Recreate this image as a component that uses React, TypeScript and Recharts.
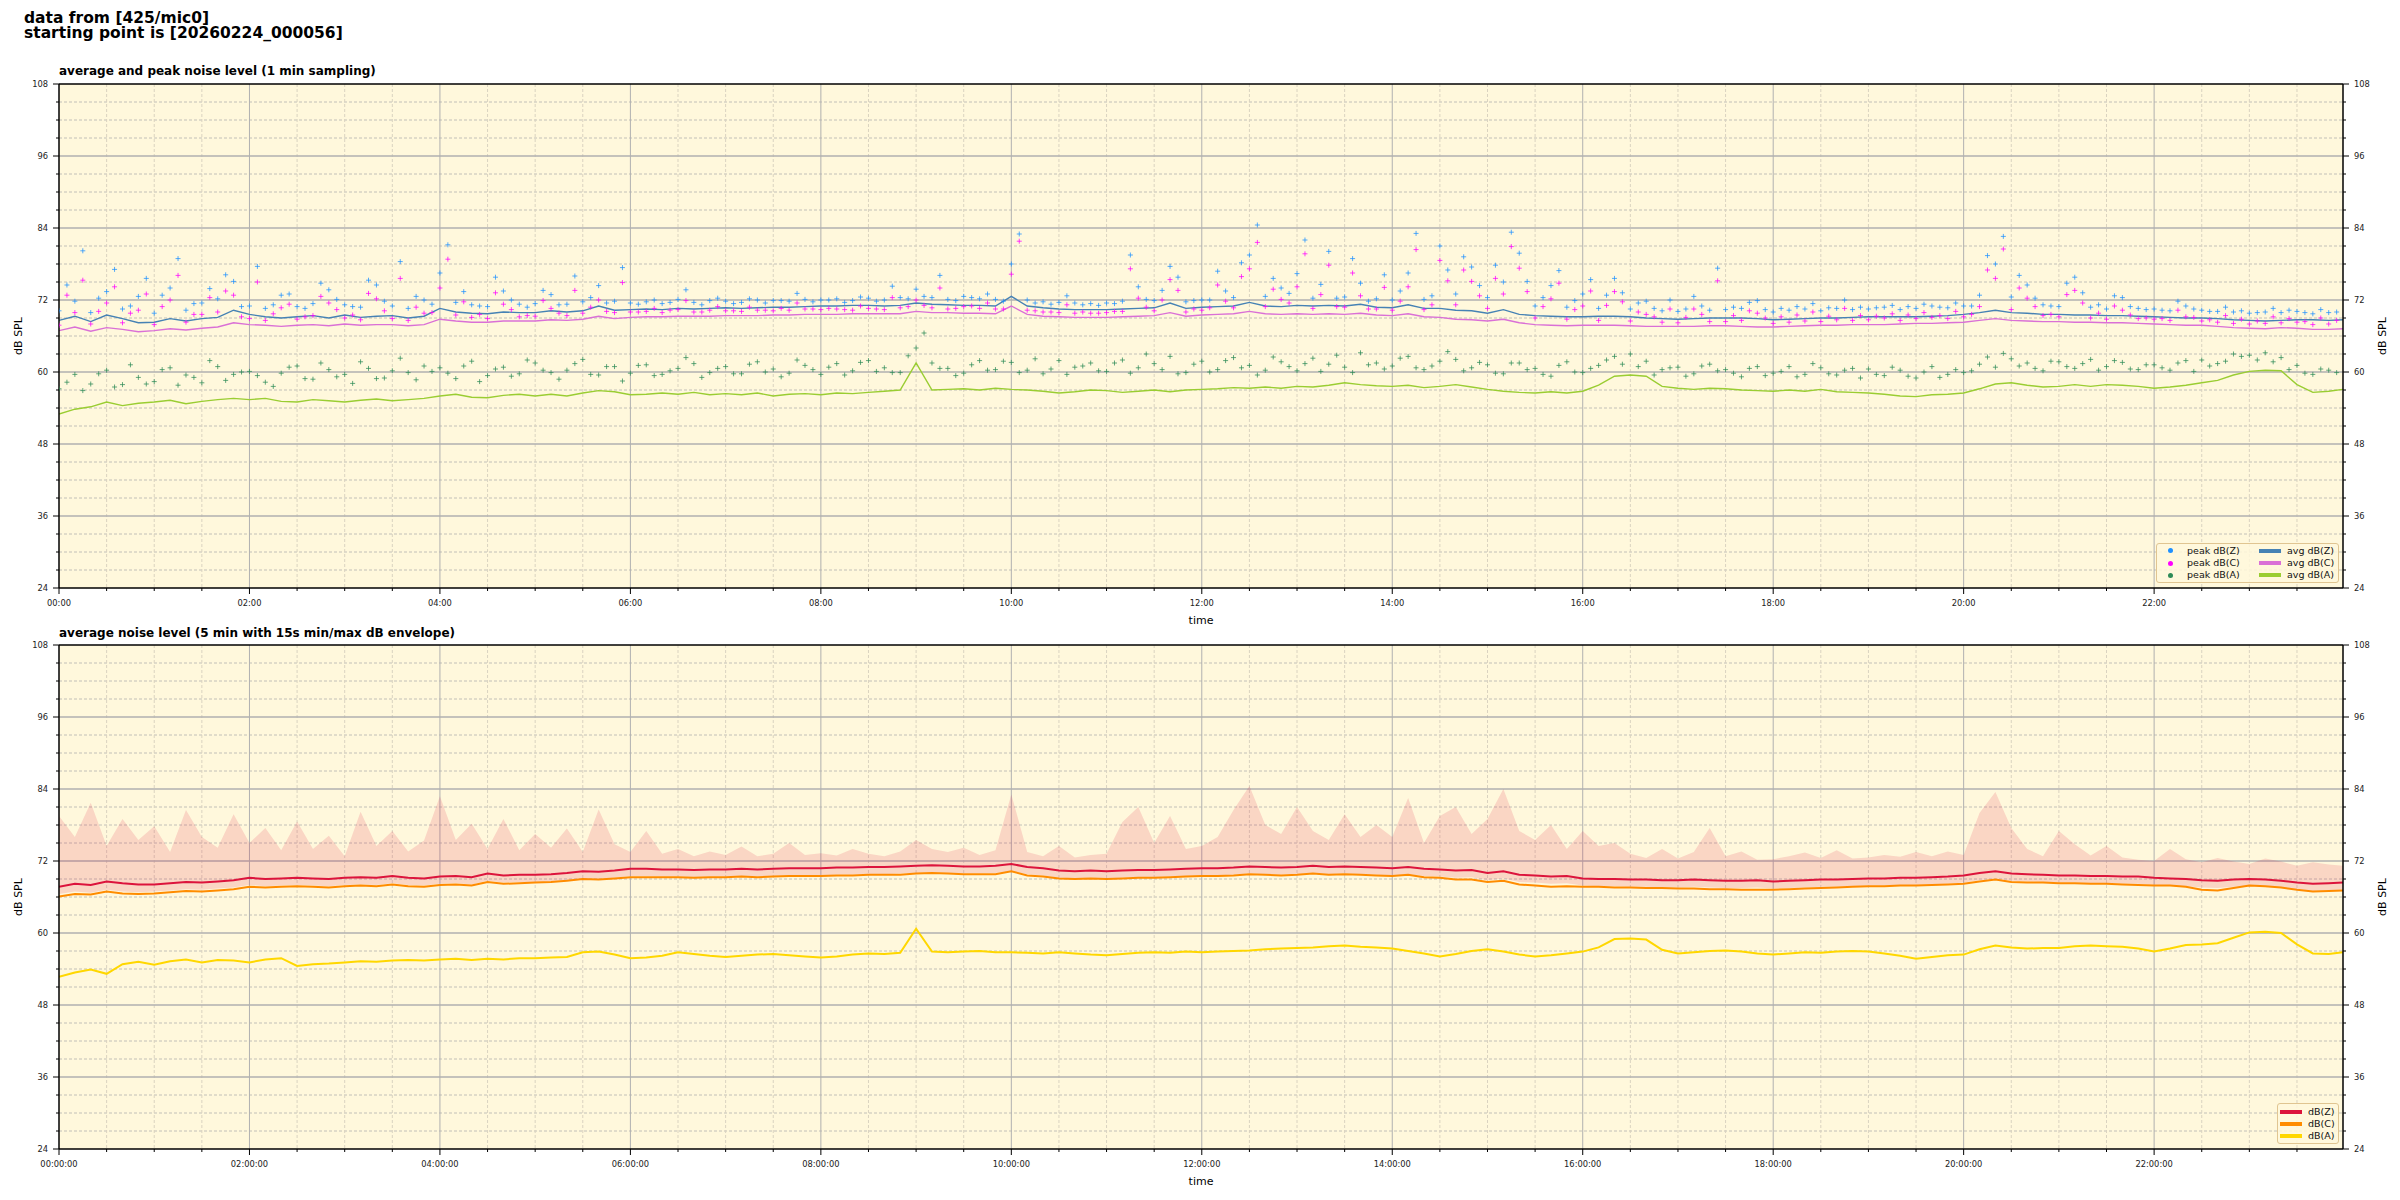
import React from 'react';
import { ComposedChart, Line, Scatter, Area, XAxis, YAxis, CartesianGrid, ReferenceLine } from 'recharts';

const FONT = '"DejaVu Sans", sans-serif';
const BG = '#fff8dc';

// x axis is minutes since the starting point
const X_END = 1439;
const STEP = 10; // line samples every 10 min, peaks read at :00 and :05 offsets

const xTicks = Array.from({ length: 48 }, (_, i) => i * 30);
const xLabelsTop = ['00:00', '02:00', '04:00', '06:00', '08:00', '10:00', '12:00', '14:00', '16:00', '18:00', '20:00', '22:00'];
const xLabelsBottom = ['00:00:00', '02:00:00', '04:00:00', '06:00:00', '08:00:00', '10:00:00', '12:00:00', '14:00:00', '16:00:00', '18:00:00', '20:00:00', '22:00:00'];
const yTicks = Array.from({ length: 29 }, (_, i) => 24 + i * 3);
const yLabels = [24, 36, 48, 60, 72, 84, 96, 108];

// top panel, 1 min sampling (read every 10 min)
const avgZ = [
  68.6, 69.3, 68.4, 69.5, 68.9, 68.2, 68.3, 68.9, 68.5, 68.9, 69.1, 70.3,
  69.6, 69.2, 69.0, 69.2, 69.4, 69.0, 69.5, 69.1, 69.3, 69.4, 69.0, 69.3,
  70.6, 70.0, 69.8, 69.7, 70.0, 69.9, 69.9, 70.2, 70.0, 70.2, 71.0, 70.3,
  70.4, 70.5, 70.4, 70.6, 70.5, 70.6, 70.7, 70.6, 70.7, 70.8, 70.8, 70.9,
  71.0, 71.0, 71.1, 71.1, 71.0, 71.1, 71.5, 71.3, 71.2, 71.1, 71.1, 71.0,
  72.6, 71.0, 70.7, 70.5, 70.4, 70.4, 70.4, 70.5, 70.6, 70.7, 71.5, 70.6,
  70.8, 70.9, 71.0, 71.6, 71.0, 70.9, 71.1, 71.0, 71.1, 71.0, 71.3, 70.8,
  70.7, 71.2, 70.6, 70.6, 70.3, 70.2, 69.8, 70.4, 69.6, 69.4, 69.3, 69.2,
  69.2, 69.3, 69.3, 69.2, 69.0, 68.9, 68.8, 68.9, 69.0, 69.0, 69.0, 68.9,
  68.7, 68.8, 68.9, 69.0, 69.0, 69.1, 69.2, 69.2, 69.2, 69.2, 69.3, 69.4,
  69.6, 69.9, 70.3, 69.9, 69.8, 69.6, 69.6, 69.5, 69.5, 69.4, 69.4, 69.3,
  69.2, 69.1, 69.0, 69.0, 68.9, 68.7, 68.6, 68.5, 68.6, 68.7, 68.7, 68.6,
  68.7,
];
const avgC = [
  66.9, 67.5, 66.8, 67.4, 67.1, 66.7, 66.9, 67.2, 67.0, 67.3, 67.5, 68.2,
  67.9, 67.8, 67.6, 67.8, 67.9, 67.7, 68.0, 67.8, 67.9, 67.9, 67.7, 67.9,
  68.8, 68.5, 68.3, 68.3, 68.5, 68.5, 68.5, 68.7, 68.6, 68.8, 69.3, 68.9,
  69.1, 69.2, 69.2, 69.3, 69.3, 69.3, 69.4, 69.4, 69.4, 69.5, 69.5, 69.6,
  69.6, 69.6, 69.7, 69.7, 69.7, 69.7, 70.1, 69.9, 69.9, 69.8, 69.8, 69.7,
  71.0, 69.6, 69.3, 69.2, 69.1, 69.1, 69.1, 69.2, 69.3, 69.4, 69.9, 69.3,
  69.5, 69.6, 69.7, 70.1, 69.7, 69.6, 69.7, 69.6, 69.7, 69.6, 69.8, 69.5,
  69.4, 69.7, 69.2, 69.1, 68.8, 68.7, 68.5, 68.8, 68.2, 67.9, 67.8, 67.7,
  67.8, 67.8, 67.8, 67.7, 67.6, 67.6, 67.6, 67.6, 67.7, 67.7, 67.6, 67.5,
  67.5, 67.6, 67.7, 67.8, 67.8, 67.9, 67.9, 67.9, 68.0, 68.1, 68.1, 68.2,
  68.3, 68.6, 68.9, 68.6, 68.5, 68.4, 68.4, 68.3, 68.3, 68.2, 68.2, 68.1,
  68.0, 67.9, 67.8, 67.8, 67.6, 67.4, 67.3, 67.2, 67.4, 67.3, 67.1, 67.1,
  67.2,
];
const avgA = [
  53.0, 53.8, 54.2, 55.0, 54.4, 54.8, 55.0, 55.3, 54.7, 55.1, 55.4, 55.6,
  55.4, 55.6, 55.1, 55.0, 55.4, 55.2, 55.0, 55.3, 55.5, 55.2, 55.4, 55.6,
  56.0, 56.3, 55.8, 55.7, 56.1, 56.3, 56.0, 56.3, 56.0, 56.5, 56.9, 56.7,
  56.2, 56.3, 56.5, 56.3, 56.6, 56.2, 56.4, 56.2, 56.5, 56.0, 56.3, 56.4,
  56.2, 56.5, 56.4, 56.6, 56.8, 57.0, 61.5, 57.0, 57.1, 57.2, 57.0, 57.3,
  57.1, 57.0, 56.8, 56.5, 56.7, 57.0, 56.9, 56.6, 56.8, 57.0, 56.7, 57.0,
  57.1, 57.2, 57.4, 57.3, 57.5, 57.3, 57.6, 57.5, 57.8, 58.2, 57.9, 57.7,
  57.6, 57.8, 57.4, 57.6, 57.9, 57.5, 57.1, 56.8, 56.6, 56.5, 56.7, 56.5,
  56.8, 57.8, 59.3, 59.5, 59.3, 57.6, 57.3, 57.1, 57.3, 57.2, 57.0, 56.9,
  56.8, 57.0, 56.8, 57.1, 56.7, 56.6, 56.5, 56.3, 56.0, 55.9, 56.2, 56.3,
  56.5, 57.2, 58.0, 58.2, 57.8, 57.5, 57.6, 57.9, 57.6, 57.9, 57.8, 57.6,
  57.3, 57.5, 57.8, 58.2, 58.6, 59.5, 60.1, 60.3, 60.2, 57.9, 56.6, 56.8,
  57.1,
];
// peaks read at minute 10*i + 5
const peakZ = [
  74.5, 80.2, 72.3, 77.1, 71.0, 75.6, 72.8, 78.9, 71.4, 73.9, 76.2, 70.9,
  77.6, 71.2, 73.0, 70.6, 74.8, 72.1, 70.9, 75.3, 71.8, 78.4, 72.6, 71.3,
  81.2, 73.4, 71.0, 75.8, 72.0, 70.8, 73.6, 71.2, 76.0, 72.4, 71.5, 77.4,
  71.3, 72.0, 71.6, 73.7, 71.2, 72.3, 71.4, 72.2, 71.5, 71.9, 73.1, 71.7,
  72.0, 71.6, 72.5, 71.8, 74.3, 72.2, 72.6, 76.1, 71.9, 72.4, 73.0, 71.8,
  83.0, 71.5, 71.3, 72.7, 71.2, 71.1, 71.4, 79.5, 72.1, 73.6, 75.8, 71.9,
  72.0, 73.5, 78.2, 84.5, 75.6, 73.1, 82.0, 74.6, 72.3, 78.9, 71.8, 76.2,
  73.5, 83.1, 72.7, 77.0, 79.2, 74.4, 77.8, 83.3, 75.1, 72.4, 76.9, 71.9,
  75.4, 72.8, 73.2, 71.5, 70.6, 72.0, 70.5, 71.0, 77.3, 70.8, 71.6, 70.4,
  70.6, 70.9, 71.4, 70.7, 72.0, 70.8, 70.7, 71.1, 70.9, 71.3, 70.8, 71.5,
  71.0, 79.4, 82.6, 76.1, 72.3, 71.0, 74.8, 73.2, 71.2, 72.7, 70.9, 70.4,
  70.3, 71.8, 70.5, 70.1, 70.8, 70.2, 69.9, 70.6, 70.3, 69.9, 70.4, 70.0,
];
const peakC = [
  72.8, 75.3, 70.1, 74.2, 69.8, 73.0, 70.9, 76.1, 69.6, 72.4, 73.5, 69.2,
  75.0, 69.7, 71.3, 69.2, 72.6, 70.4, 69.5, 73.1, 70.2, 75.6, 70.8, 69.9,
  78.8, 71.7, 69.6, 73.2, 70.4, 69.4, 71.9, 69.8, 73.6, 70.8, 70.1, 74.9,
  70.0, 70.6, 70.3, 71.9, 70.0, 70.9, 70.2, 70.8, 70.3, 70.6, 71.5, 70.5,
  70.6, 70.4, 71.0, 70.5, 72.4, 70.9, 71.1, 74.0, 70.6, 71.0, 71.5, 70.5,
  81.8, 70.2, 70.0, 71.2, 70.0, 69.8, 70.1, 77.2, 70.8, 72.0, 73.6, 70.5,
  70.7, 71.8, 75.9, 81.6, 73.8, 71.5, 79.7, 72.9, 70.9, 76.5, 70.5, 74.1,
  71.8, 80.4, 71.2, 75.2, 77.0, 72.7, 75.6, 80.9, 73.4, 70.9, 74.8, 70.4,
  73.5, 71.1, 71.7, 70.0, 69.2, 70.5, 69.1, 69.6, 75.2, 69.4, 70.2, 69.0,
  69.2, 69.5, 70.0, 69.3, 70.6, 69.4, 69.3, 69.7, 69.5, 69.9, 69.4, 70.1,
  69.6, 77.0, 80.5, 74.0, 70.9, 69.6, 72.9, 71.5, 69.8, 71.0, 69.5, 69.0,
  68.9, 70.3, 69.1, 68.7, 69.4, 68.8, 68.5, 69.2, 68.9, 68.4, 69.0, 68.6,
];
const peakA = [
  58.3, 56.9, 59.7, 57.5, 61.2, 58.0, 60.4, 57.8, 59.1, 61.9, 58.6, 60.0,
  59.4, 57.6, 60.8, 58.9, 61.5, 59.2, 58.1, 60.6, 59.0, 62.3, 58.7, 60.1,
  59.8, 61.0, 58.4, 60.5, 59.3, 62.0, 60.3, 58.8, 61.4, 59.6, 60.9, 58.5,
  61.1, 59.4, 60.2, 62.4, 59.1, 60.6, 59.7, 61.3, 60.0, 59.2, 62.0, 60.4,
  60.8, 59.5, 61.6, 60.1, 59.9, 62.7, 66.5, 60.6, 59.4, 61.2, 60.3, 61.8,
  59.9, 62.2, 60.5, 59.6, 61.0, 60.2, 61.5, 59.8, 63.0, 60.4, 59.7, 61.3,
  60.0, 61.9, 60.7, 59.5, 62.5, 60.9, 61.4, 60.1, 62.8, 59.9, 61.2, 60.5,
  62.3, 60.7, 61.0, 63.4, 60.2, 61.6, 59.8, 61.5, 60.4, 59.6, 61.1, 60.0,
  60.6, 62.0, 61.3, 60.9, 59.5, 60.7, 59.3, 61.0, 60.2, 59.8, 60.6, 59.4,
  60.1, 59.2, 61.4, 59.7, 60.3, 59.0, 59.6, 60.8, 59.3, 60.0, 59.1, 60.4,
  60.2, 62.5, 63.1, 61.0, 60.6, 61.8, 60.9, 61.4, 60.3, 61.9, 60.5, 61.2,
  60.7, 61.5, 60.1, 61.0, 61.8, 62.6, 62.0, 61.7, 60.4, 59.8, 60.5, 59.9,
];
// peaks read at minute 10*i
const peakZb = [
  70.2, 71.8, 69.9, 73.4, 70.5, 72.6, 69.8, 74.0, 70.3, 71.5, 72.2, 75.1,
  71.0, 70.6, 72.8, 70.9, 71.4, 73.7, 71.2, 70.8, 74.5, 71.0, 70.6, 72.0,
  76.5, 71.6, 71.2, 70.9, 73.5, 71.3, 71.4, 72.9, 71.3, 71.7, 74.4, 71.8,
  71.5, 71.7, 71.4, 72.1, 71.6, 71.9, 71.8, 71.6, 72.0, 71.9, 71.8, 72.1,
  72.0, 72.2, 71.9, 72.3, 72.0, 72.4, 73.8, 72.4, 72.1, 72.6, 72.2, 72.1,
  78.0, 72.0, 71.7, 71.6, 71.5, 71.4, 71.5, 71.8, 74.2, 71.9, 77.6, 71.7,
  72.0, 76.8, 72.4, 79.5, 72.6, 74.0, 76.4, 72.3, 80.1, 72.5, 74.8, 72.2,
  72.0, 76.5, 72.1, 81.0, 73.0, 77.5, 72.4, 75.0, 79.8, 71.0, 74.4, 70.8,
  73.0, 70.6, 75.6, 70.5, 71.8, 70.2, 70.1, 72.6, 70.3, 70.4, 70.6, 71.9,
  70.0, 70.3, 70.5, 70.2, 70.6, 70.4, 70.5, 70.8, 70.4, 70.6, 71.0, 70.7,
  71.0, 72.8, 78.0, 72.5, 74.5, 71.2, 70.9, 75.8, 70.8, 70.5, 72.4, 70.6,
  70.5, 70.2, 71.0, 70.3, 70.1, 70.0, 69.8, 70.0, 69.9, 70.1, 69.7, 69.9,
];
const peakCb = [
  67.8, 69.9, 68.0, 71.5, 68.2, 70.3, 67.9, 72.0, 68.3, 69.6, 70.0, 72.8,
  68.9, 68.6, 70.7, 68.8, 69.4, 71.5, 69.0, 68.7, 72.2, 68.9, 68.6, 69.8,
  74.0, 69.5, 69.1, 68.9, 71.3, 69.2, 69.3, 70.6, 69.4, 69.8, 72.0, 69.9,
  70.0, 70.1, 69.9, 70.4, 70.0, 70.3, 70.2, 70.1, 70.3, 70.2, 70.3, 70.5,
  70.4, 70.5, 70.3, 70.6, 70.4, 70.7, 72.0, 70.7, 70.5, 70.9, 70.6, 70.5,
  76.3, 70.3, 70.0, 69.9, 69.8, 69.8, 69.9, 70.1, 72.3, 70.2, 75.4, 70.0,
  70.3, 74.5, 70.7, 77.2, 70.9, 72.1, 74.2, 70.6, 77.8, 70.8, 72.7, 70.5,
  70.3, 74.2, 70.4, 78.6, 71.2, 75.1, 70.6, 73.0, 77.3, 69.0, 72.2, 68.8,
  71.0, 68.6, 73.4, 68.5, 69.6, 68.3, 68.2, 70.5, 68.4, 68.4, 68.6, 69.8,
  68.1, 68.3, 68.5, 68.4, 68.7, 68.6, 68.7, 69.0, 68.6, 68.9, 69.1, 68.9,
  69.2, 70.9, 75.6, 70.4, 72.3, 69.4, 69.2, 73.6, 69.0, 68.8, 70.3, 68.9,
  68.8, 68.6, 69.2, 68.5, 68.3, 68.1, 68.0, 68.1, 68.2, 68.3, 67.9, 68.0,
];
const peakAb = [
  57.2, 59.6, 58.0, 60.3, 57.9, 59.1, 58.4, 60.7, 59.5, 58.2, 60.9, 59.6,
  60.1, 58.3, 59.8, 61.0, 58.8, 60.4, 59.6, 61.7, 58.9, 60.2, 59.9, 61.0,
  60.7, 58.9, 61.8, 59.4, 60.8, 59.7, 61.5, 59.9, 60.3, 62.1, 59.5, 60.9,
  59.8, 61.2, 59.6, 60.6, 61.4, 59.9, 60.9, 59.7, 61.7, 60.5, 59.8, 61.1,
  59.6, 61.4, 60.2, 61.9, 60.7, 59.9, 64.0, 61.5, 60.6, 59.8, 61.9, 60.4,
  61.6, 60.3, 59.7, 61.9, 60.8, 61.5, 60.1, 62.0, 60.7, 61.4, 62.6, 59.9,
  61.8, 60.4, 62.4, 61.1, 60.3, 61.7, 60.2, 62.3, 61.3, 60.8, 63.2, 61.5,
  61.0, 62.6, 60.4, 61.8, 62.1, 60.7, 61.2, 59.7, 61.5, 60.6, 59.3, 61.7,
  59.9, 61.1, 62.6, 63.0, 61.8, 60.4, 60.8, 59.7, 61.3, 60.4, 59.2, 60.9,
  59.8, 60.9, 59.6, 60.7, 59.5, 60.6, 60.5, 59.4, 60.3, 59.0, 60.9, 59.6,
  59.9, 61.3, 60.8, 62.2, 61.5, 60.2, 61.7, 60.6, 62.1, 60.9, 61.6, 60.4,
  61.2, 60.3, 61.9, 62.0, 61.4, 63.0, 62.8, 63.2, 62.4, 61.1, 59.6, 60.3,
];

// bottom panel, 5 min averages (read every 10 min)
const avg5Z = [
  67.7, 68.2, 68.0, 68.6, 68.3, 68.1, 68.1, 68.3, 68.5, 68.4, 68.6, 68.8,
  69.2, 69.0, 69.1, 69.2, 69.1, 69.0, 69.2, 69.3, 69.2, 69.5, 69.2, 69.1,
  69.4, 69.5, 69.3, 69.9, 69.6, 69.7, 69.7, 69.8, 70.0, 70.3, 70.2, 70.4,
  70.7, 70.7, 70.6, 70.6, 70.5, 70.6, 70.6, 70.7, 70.6, 70.7, 70.8, 70.8,
  70.8, 70.9, 70.9, 71.0, 71.0, 71.1, 71.2, 71.3, 71.2, 71.1, 71.1, 71.2,
  71.5, 71.0, 70.8, 70.4, 70.3, 70.4, 70.3, 70.4, 70.5, 70.5, 70.6, 70.7,
  70.8, 70.8, 70.9, 71.1, 71.0, 70.9, 71.0, 71.2, 71.0, 71.1, 71.0, 70.9,
  70.8, 71.0, 70.7, 70.6, 70.4, 70.5, 70.0, 70.3, 69.7, 69.6, 69.4, 69.5,
  69.1, 69.0, 69.0, 68.9, 68.9, 68.8, 68.8, 68.9, 68.8, 68.7, 68.7, 68.8,
  68.6, 68.7, 68.8, 68.9, 68.9, 69.0, 69.1, 69.1, 69.2, 69.2, 69.3, 69.4,
  69.6, 70.0, 70.3, 69.9, 69.8, 69.7, 69.6, 69.6, 69.5, 69.5, 69.4, 69.4,
  69.2, 69.1, 69.0, 68.8, 68.7, 68.9, 69.0, 68.9, 68.7, 68.4, 68.2, 68.3,
  68.4,
];
const avg5C = [
  66.1, 66.5, 66.4, 66.9, 66.6, 66.5, 66.6, 66.8, 67.0, 66.9, 67.1, 67.3,
  67.7, 67.6, 67.7, 67.8, 67.7, 67.6, 67.8, 67.9, 67.8, 68.1, 67.8, 67.7,
  68.0, 68.1, 67.9, 68.5, 68.2, 68.3, 68.4, 68.5, 68.7, 69.0, 68.9, 69.1,
  69.3, 69.3, 69.3, 69.3, 69.2, 69.3, 69.3, 69.4, 69.3, 69.4, 69.5, 69.5,
  69.5, 69.6, 69.6, 69.7, 69.7, 69.7, 69.9, 70.0, 69.9, 69.8, 69.8, 69.8,
  70.3, 69.6, 69.4, 69.1, 69.0, 69.1, 69.0, 69.1, 69.2, 69.2, 69.3, 69.4,
  69.5, 69.5, 69.6, 69.8, 69.7, 69.6, 69.7, 69.9, 69.7, 69.8, 69.7, 69.6,
  69.5, 69.7, 69.3, 69.2, 68.9, 68.9, 68.5, 68.7, 68.1, 67.9, 67.7, 67.8,
  67.7, 67.7, 67.6, 67.6, 67.5, 67.5, 67.4, 67.4, 67.3, 67.3, 67.2, 67.2,
  67.2, 67.3, 67.4, 67.5, 67.6, 67.7, 67.8, 67.8, 67.9, 67.9, 68.0, 68.1,
  68.2, 68.6, 68.9, 68.5, 68.4, 68.4, 68.3, 68.3, 68.2, 68.2, 68.1, 68.0,
  67.9, 67.9, 67.7, 67.2, 67.1, 67.5, 67.9, 67.8, 67.6, 67.2, 66.9, 67.0,
  67.1,
];
const avg5A = [
  52.7, 53.4, 53.9, 53.2, 54.8, 55.2, 54.7, 55.3, 55.6, 55.1, 55.5, 55.4,
  55.1, 55.6, 55.8, 54.5, 54.8, 54.9, 55.1, 55.3, 55.2, 55.4, 55.5, 55.4,
  55.6, 55.7, 55.5, 55.7, 55.6, 55.8, 55.8, 55.9, 56.0, 56.8, 56.9, 56.4,
  55.8, 55.9, 56.2, 56.8, 56.5, 56.2, 56.0, 56.2, 56.4, 56.5, 56.3, 56.1,
  55.9, 56.1, 56.4, 56.6, 56.5, 56.7, 60.7, 56.9, 56.8, 56.9, 57.0, 56.8,
  56.8, 56.7, 56.6, 56.8, 56.6, 56.4, 56.3, 56.5, 56.7, 56.8, 56.7, 56.9,
  56.8, 56.9, 57.0, 57.1, 57.3, 57.4, 57.5, 57.6, 57.8, 57.9, 57.7, 57.6,
  57.4, 57.0, 56.6, 56.1, 56.5, 57.0, 57.3, 56.9, 56.4, 56.1, 56.3, 56.6,
  56.9, 57.6, 59.0, 59.1, 58.9, 57.2, 56.6, 56.8, 57.0, 57.1, 56.9, 56.6,
  56.4, 56.6, 56.8, 56.7, 56.9, 57.0, 56.9, 56.6, 56.2, 55.7, 56.0, 56.3,
  56.4, 57.3, 57.9, 57.6, 57.4, 57.5, 57.5, 57.8, 57.9, 57.8, 57.7, 57.4,
  56.9, 57.4, 58.0, 58.1, 58.3, 59.2, 60.1, 60.2, 60.0, 58.1, 56.6, 56.5,
  56.8,
];
// 15 s min / max envelope of dB(Z)
const envLo = [
  66.5, 66.9, 66.7, 67.2, 66.9, 66.8, 66.9, 67.1, 67.3, 67.2, 67.4, 67.6,
  68.0, 67.8, 67.9, 68.0, 67.9, 67.8, 68.0, 68.1, 68.0, 68.3, 68.0, 67.9,
  68.2, 68.3, 68.1, 68.7, 68.4, 68.5, 68.5, 68.6, 68.8, 69.1, 69.0, 69.2,
  69.5, 69.5, 69.4, 69.4, 69.3, 69.4, 69.4, 69.5, 69.4, 69.5, 69.6, 69.6,
  69.6, 69.7, 69.7, 69.8, 69.8, 69.9, 70.0, 70.1, 70.0, 69.9, 69.9, 70.0,
  70.3, 69.8, 69.6, 69.2, 69.1, 69.2, 69.1, 69.2, 69.3, 69.3, 69.4, 69.5,
  69.6, 69.6, 69.7, 69.9, 69.8, 69.7, 69.8, 70.0, 69.8, 69.9, 69.8, 69.7,
  69.6, 69.8, 69.5, 69.4, 69.2, 69.3, 68.8, 69.1, 68.5, 68.4, 68.2, 68.3,
  67.9, 67.8, 67.8, 67.7, 67.7, 67.6, 67.6, 67.7, 67.6, 67.5, 67.5, 67.6,
  67.4, 67.5, 67.6, 67.7, 67.7, 67.8, 67.9, 67.9, 68.0, 68.0, 68.1, 68.2,
  68.4, 68.8, 69.1, 68.7, 68.6, 68.5, 68.4, 68.4, 68.3, 68.3, 68.2, 68.2,
  68.0, 67.9, 67.8, 67.6, 67.5, 67.7, 67.8, 67.7, 67.5, 67.2, 67.0, 67.1,
  67.2,
];
const envHi = [
  79.5, 76.0, 81.7, 74.5, 79.0, 75.5, 77.8, 73.5, 80.5, 76.0, 74.2, 79.8,
  75.0, 77.5, 73.8, 78.6, 74.0, 76.2, 72.8, 80.2, 74.5, 77.0, 73.6, 75.4,
  82.8, 75.5, 78.2, 74.0, 79.0, 73.8, 76.5, 74.2, 77.4, 73.5, 80.6, 74.8,
  73.5, 77.0, 73.2, 74.0, 72.8, 73.6, 73.0, 74.4, 72.8, 73.2, 75.0, 73.0,
  73.3, 72.9, 74.0, 73.2, 72.8, 73.6, 75.5, 74.0, 73.5, 74.2, 73.0, 73.8,
  83.1, 73.5, 72.8, 74.5, 72.6, 73.0, 73.2, 78.5, 81.0, 75.0, 79.5, 74.0,
  74.5, 76.0, 80.5, 84.5, 78.0, 76.5, 81.0, 77.0, 75.5, 79.8, 76.0, 78.0,
  76.0, 82.5, 75.0, 79.5, 81.0, 76.5, 79.0, 84.0, 77.0, 75.5, 78.0, 74.0,
  77.0, 74.5, 75.0, 73.2, 72.5, 74.0, 72.4, 73.5, 77.5, 72.8, 73.6, 72.2,
  72.3, 72.8, 73.4, 72.5, 73.8, 72.4, 72.6, 73.0, 72.7, 73.5, 72.8, 73.6,
  73.0, 80.0, 83.5, 77.5, 74.0, 72.8, 77.0, 74.8, 72.9, 74.5, 72.6, 72.2,
  72.0, 74.0, 72.3, 71.8, 72.5, 71.9, 71.5, 72.4, 71.9, 71.2, 71.8, 71.4,
  71.2,
];

const lineRows = (vals: number[]) => vals.map((v, i) => ({ t: Math.min(i * STEP, X_END), v }));
const peakRows = (vals: number[], offset: number) => vals.map((v, i) => ({ t: i * STEP + offset, v }));
const envRows = envLo.map((lo, i) => ({ t: Math.min(i * STEP, X_END), range: [lo, envHi[i]] }));

const txt = { fontFamily: FONT, fill: '#222', fontSize: 8.3 };

function LeftTick({ x, y, payload }: any) {
  const major = payload.value % 12 === 0;
  return (
    <g>
      <line x1={x - (major ? 6 : 3)} x2={x} y1={y} y2={y} stroke="#000" strokeWidth={1} />
      {major && <text x={x - 11} y={y} dy="0.35em" textAnchor="end" {...txt}>{payload.value}</text>}
    </g>
  );
}

function RightTick({ x, y, payload }: any) {
  const major = payload.value % 12 === 0;
  return (
    <g>
      <line x1={x} x2={x + (major ? 6 : 3)} y1={y} y2={y} stroke="#000" strokeWidth={1} />
      {major && <text x={x + 11} y={y} dy="0.35em" textAnchor="start" {...txt}>{payload.value}</text>}
    </g>
  );
}

const makeBottomTick = (labels: string[]) => ({ x, y, payload }: any) => {
  const major = payload.value % 120 === 0;
  return (
    <g>
      <line x1={x} x2={x} y1={y} y2={y + (major ? 6 : 3)} stroke="#000" strokeWidth={1} />
      {major && <text x={x} y={y + 12} dy="0.71em" textAnchor="middle" {...txt}>{labels[payload.value / 120]}</text>}
    </g>
  );
};

const PlusMark = (color: string) => (p: any) => (
  <path d={`M${p.cx - 2.5},${p.cy}h5M${p.cx},${p.cy - 2.5}v5`} stroke={color} strokeWidth={1} strokeOpacity={0.75} />
);

const hMinor = yTicks.filter((v) => v % 12 !== 0);
const hMajor = yLabels.filter((v) => v !== 24 && v !== 108);
const vMinor = xTicks.filter((t) => t % 120 !== 0);
const vMajor = xTicks.filter((t) => t % 120 === 0 && t > 0);

function Panel({ top, height, marginTop, labels, children }: any) {
  const BottomTick = makeBottomTick(labels);
  return (
    <div style={{ position: 'absolute', left: 0, top }}>
      <ComposedChart width={2400} height={height} margin={{ top: marginTop, right: 0, bottom: 0, left: 0 }}>
        <CartesianGrid fill={BG} fillOpacity={1} vertical={false} horizontalValues={hMinor} stroke="#c2c0b8" strokeDasharray="3 2" yAxisId="l" />
        <CartesianGrid horizontal={false} verticalValues={vMinor} stroke="#dad3c0" strokeDasharray="3 2" yAxisId="l" />
        <CartesianGrid vertical={false} horizontalValues={hMajor} stroke="#b0b0b0" strokeWidth={1.6} yAxisId="l" />
        <CartesianGrid horizontal={false} verticalValues={vMajor} stroke="#b0b0b0" strokeWidth={1} yAxisId="l" />
        <XAxis type="number" dataKey="t" domain={[0, X_END]} ticks={xTicks} interval={0} allowDataOverflow
          height={height - marginTop - 504} tickLine={false} tickSize={0} tickMargin={0}
          axisLine={{ stroke: '#000', strokeWidth: 1.5 }} tick={<BottomTick />} />
        <YAxis yAxisId="l" type="number" dataKey="v" domain={[24, 108]} ticks={yTicks} interval={0} allowDataOverflow
          width={59} tickLine={false} tickSize={0} tickMargin={0}
          axisLine={{ stroke: '#000', strokeWidth: 1.5 }} tick={<LeftTick />} />
        <YAxis yAxisId="r" orientation="right" type="number" domain={[24, 108]} ticks={yTicks} interval={0} allowDataOverflow
          width={57} tickLine={false} tickSize={0} tickMargin={0}
          axisLine={{ stroke: '#000', strokeWidth: 1.5 }} tick={<RightTick />} />
        {children}
        <ReferenceLine yAxisId="l" y={108} stroke="#000" strokeWidth={1.5} />
      </ComposedChart>
    </div>
  );
}

function Legend({ left, top, width, height, children }: any) {
  return (
    <div style={{
      position: 'absolute', left, top, width, height, boxSizing: 'border-box',
      background: 'rgba(255,248,220,0.85)', border: '1px solid #e0c591', borderRadius: 3,
    }}>{children}</div>
  );
}

const legendText = { position: 'absolute' as const, fontFamily: FONT, fontSize: 9.5, color: '#111', lineHeight: '10px', whiteSpace: 'nowrap' as const };

function DotItem({ x, y, color, label }: any) {
  return (
    <>
      <div style={{ position: 'absolute', left: x - 2.5, top: y - 2.5, width: 5, height: 5, borderRadius: 3, background: color }} />
      <div style={{ ...legendText, left: x + 17, top: y - 5 }}>{label}</div>
    </>
  );
}

function LineItem({ x, y, color, label, w }: any) {
  return (
    <>
      <div style={{ position: 'absolute', left: x, top: y - 2, width: w, height: 4, background: color }} />
      <div style={{ ...legendText, left: x + w + 6, top: y - 5 }}>{label}</div>
    </>
  );
}

const centerLabel = { position: 'absolute' as const, fontFamily: FONT, fontSize: 11, color: '#000', whiteSpace: 'nowrap' as const, transform: 'translate(-50%, -50%)' };
const sideLabel = { ...centerLabel, transform: 'translate(-50%, -50%) rotate(-90deg)' };

const lineProps = { yAxisId: 'l', dataKey: 'v', type: 'linear' as const, dot: false, activeDot: false, isAnimationActive: false };

export default function App() {
  return (
    <div style={{ position: 'absolute', left: 0, top: 0, width: 2400, height: 1200, background: '#fff', overflow: 'hidden' }}>
      <div style={{ position: 'absolute', left: 24, top: 11, fontFamily: FONT, fontWeight: 'bold', fontSize: 15.5, lineHeight: '15px', color: '#000' }}>
        <div>data from [425/mic0]</div>
        <div>starting point is [20260224_000056]</div>
      </div>
      <div style={{ position: 'absolute', left: 59, top: 65, fontFamily: FONT, fontWeight: 'bold', fontSize: 12, lineHeight: '12px' }}>
        average and peak noise level (1 min sampling)
      </div>
      <div style={{ position: 'absolute', left: 59, top: 627, fontFamily: FONT, fontWeight: 'bold', fontSize: 12, lineHeight: '12px' }}>
        average noise level (5 min with 15s min/max dB envelope)
      </div>

      <Panel top={0} height={640} marginTop={84} labels={xLabelsTop}>
        <Scatter yAxisId="l" data={peakRows(peakA, 5)} dataKey="v" shape={PlusMark('#2e8b57')} isAnimationActive={false} />
        <Scatter yAxisId="l" data={peakRows(peakAb, 0)} dataKey="v" shape={PlusMark('#2e8b57')} isAnimationActive={false} />
        <Scatter yAxisId="l" data={peakRows(peakC, 5)} dataKey="v" shape={PlusMark('#ff00ff')} isAnimationActive={false} />
        <Scatter yAxisId="l" data={peakRows(peakCb, 0)} dataKey="v" shape={PlusMark('#ff00ff')} isAnimationActive={false} />
        <Scatter yAxisId="l" data={peakRows(peakZ, 5)} dataKey="v" shape={PlusMark('#1e90ff')} isAnimationActive={false} />
        <Scatter yAxisId="l" data={peakRows(peakZb, 0)} dataKey="v" shape={PlusMark('#1e90ff')} isAnimationActive={false} />
        <Line {...lineProps} data={lineRows(avgA)} stroke="#9acd32" strokeWidth={1.4} />
        <Line {...lineProps} data={lineRows(avgC)} stroke="#da70d6" strokeWidth={1.4} />
        <Line {...lineProps} data={lineRows(avgZ)} stroke="#4682b4" strokeWidth={1.4} />
      </Panel>

      <Panel top={600} height={600} marginTop={45} labels={xLabelsBottom}>
        <Area yAxisId="l" data={envRows} dataKey="range" type="linear" stroke="none" fill="#dc143c" fillOpacity={0.15} dot={false} activeDot={false} isAnimationActive={false} />
        <Line {...lineProps} data={lineRows(avg5A)} stroke="#ffd700" strokeWidth={2} />
        <Line {...lineProps} data={lineRows(avg5C)} stroke="#ff8c00" strokeWidth={2} />
        <Line {...lineProps} data={lineRows(avg5Z)} stroke="#dc143c" strokeWidth={2} />
      </Panel>

      <div style={{ ...centerLabel, left: 1201, top: 620 }}>time</div>
      <div style={{ ...centerLabel, left: 1201, top: 1181 }}>time</div>
      <div style={{ ...sideLabel, left: 18, top: 336 }}>dB SPL</div>
      <div style={{ ...sideLabel, left: 2382, top: 336 }}>dB SPL</div>
      <div style={{ ...sideLabel, left: 18, top: 897 }}>dB SPL</div>
      <div style={{ ...sideLabel, left: 2382, top: 897 }}>dB SPL</div>

      <Legend left={2156} top={543} width={183} height={40}>
        <DotItem x={13} y={6.5} color="#1e90ff" label="peak dB(Z)" />
        <DotItem x={13} y={19} color="#ff00ff" label="peak dB(C)" />
        <DotItem x={13} y={31} color="#2e8b57" label="peak dB(A)" />
        <LineItem x={102} y={6.5} w={22} color="#4682b4" label="avg dB(Z)" />
        <LineItem x={102} y={19} w={22} color="#da70d6" label="avg dB(C)" />
        <LineItem x={102} y={31} w={22} color="#9acd32" label="avg dB(A)" />
      </Legend>
      <Legend left={2277} top={1103} width={62} height={41}>
        <LineItem x={2} y={8} w={22} color="#dc143c" label="dB(Z)" />
        <LineItem x={2} y={20} w={22} color="#ff8c00" label="dB(C)" />
        <LineItem x={2} y={32} w={22} color="#ffd700" label="dB(A)" />
      </Legend>
    </div>
  );
}
